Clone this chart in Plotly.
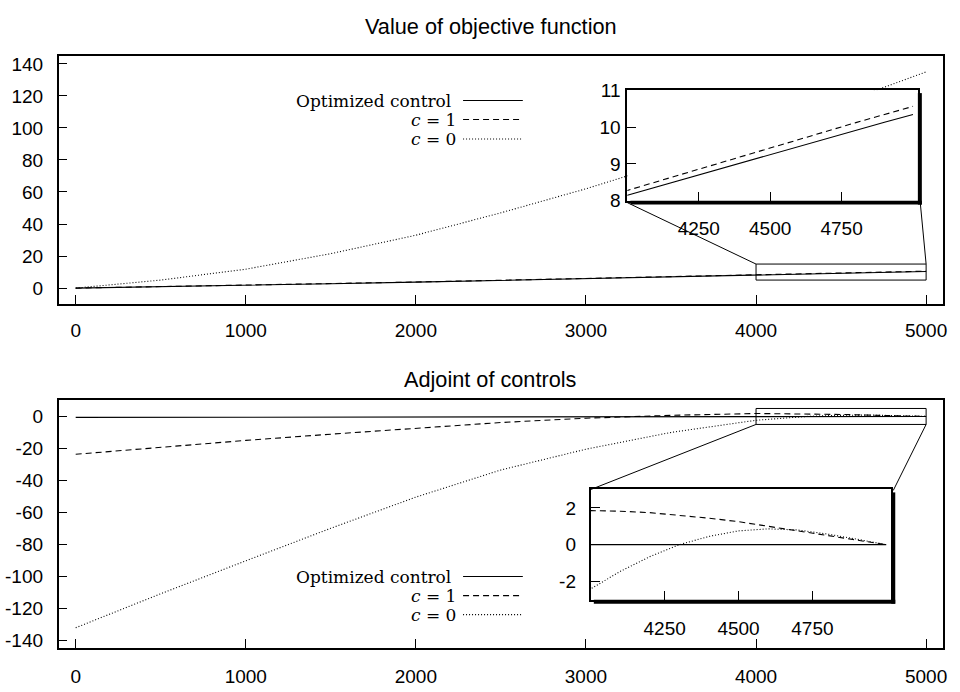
import plotly.graph_objects as go

# ---------------- data ----------------
T = [0, 500, 1000, 1500, 2000, 2500, 3000, 3500, 4000, 4100, 4200, 4300,
     4400, 4500, 4600, 4700, 4800, 4900, 5000]

obj_opt = [0, 0.8, 1.7, 2.7, 3.7, 4.8, 5.9, 7.0, 8.15, 8.37, 8.6, 8.82,
           9.05, 9.27, 9.49, 9.7, 9.92, 10.13, 10.34]
obj_c1 = [0, 0.85, 1.75, 2.75, 3.8, 4.9, 6.0, 7.1, 8.28, 8.51, 8.75, 8.98,
          9.22, 9.45, 9.67, 9.9, 10.12, 10.34, 10.56]
obj_c0 = [0, 5.0, 11.8, 21.5, 33.0, 47.0, 62.0, 78.5, 96.0, 99.8, 103.7, 107.6,
          111.5, 115.5, 119.4, 123.3, 127.2, 131.1, 135.0]

adj_opt = [-0.6, -0.5, -0.4, -0.3, -0.2, -0.15, -0.1, -0.05, 0, 0, 0, 0,
           0, 0, 0, 0, 0, 0, 0]
adj_c1 = [-23.7, -19.2, -15.0, -11.1, -7.4, -3.8, -1.1, 0.7, 1.85, 1.82, 1.74, 1.6,
          1.44, 1.25, 1.0, 0.75, 0.5, 0.25, 0]
adj_c0 = [-132.3, -111.0, -90.4, -70.0, -50.5, -33.5, -20.5, -10.0, -2.4, -1.45, -0.65, 0.0,
          0.45, 0.75, 0.86, 0.8, 0.58, 0.3, 0]

series_names = ["Optimized control", "<i>c</i> = 1", "<i>c</i> = 0"]
titles = ["Value of objective function", "Adjoint of controls"]

x_ticks = [0, 1000, 2000, 3000, 4000, 5000]
obj_yticks = [0, 20, 40, 60, 80, 100, 120, 140]
adj_yticks = [-140, -120, -100, -80, -60, -40, -20, 0]
inset_xticks = [4250, 4500, 4750]
obj_inset_yticks = [8, 9, 10, 11]
adj_inset_yticks = [-2, 0, 2]

main_xrange = [-100, 5100]
obj_yrange = [-10, 145]
adj_yrange = [-145, 10]
inset_xrange = [4000, 5017]
obj_inset_yrange = [8, 11]
adj_inset_yrange = [-3, 3]
obj_zoom_box = [4000, 5000, 5, 15]
adj_zoom_box = [4000, 5000, -5, 5]

# ---------------- layout geometry (pixels) ----------------
W, H = 960, 692
def px(x):
    return x / W
def py(y):
    return 1 - y / H

main_xdom = [px(58.93), px(947.07)]
top_ydom = [py(303.3), py(47.3)]
bot_ydom = [py(658), py(402.7)]
in1_xdom = [px(630), px(921.7)]
in1_ydom = [py(196.7), py(82.7)]
in2_xdom = [px(593.3), px(895)]
in2_ydom = [py(608.3), py(494.5)]

SANS = "Liberation Sans, Arial, sans-serif"
SERIF = "DejaVu Serif, serif"
styles = [dict(color="black", width=1.1),
          dict(color="black", width=1.1, dash="6px,4px"),
          dict(color="black", width=1.1, dash="1px,2px")]

fig = go.Figure()
sets = [
    ("x", "y", [obj_opt, obj_c1, obj_c0]),
    ("x2", "y2", [adj_opt, adj_c1, adj_c0]),
    ("x3", "y3", [obj_opt, obj_c1, obj_c0]),
    ("x4", "y4", [adj_opt, adj_c1, adj_c0]),
]
for xa, ya, ser in sets:
    for name, vals, st in zip(series_names, ser, styles):
        fig.add_trace(go.Scatter(x=T, y=vals, mode="lines", name=name, line=st,
                                 xaxis=xa, yaxis=ya, showlegend=False,
                                 hoverinfo="skip"))

def fmt(v):
    return str(v).replace("\u2212", "-")

def ax(domain, rng, ticks, standoff, anchor, lw=1.6):
    return dict(domain=domain, range=rng, tickvals=ticks,
                ticktext=[fmt(t) for t in ticks], showline=True, mirror=True,
                linecolor="black", linewidth=lw, ticks="inside", ticklen=9,
                tickwidth=1.3, tickcolor="black", showgrid=False, zeroline=False,
                tickfont=dict(family=SANS, size=19, color="black"),
                ticklabelstandoff=standoff, anchor=anchor, fixedrange=True)

fig.update_layout(
    width=W, height=H, margin=dict(l=0, r=0, t=0, b=0),
    paper_bgcolor="white", plot_bgcolor="white", showlegend=False,
    xaxis=ax(main_xdom, main_xrange, x_ticks, 8, "y"),
    yaxis=ax(top_ydom, obj_yrange, obj_yticks, 10, "x"),
    xaxis2=ax(main_xdom, main_xrange, x_ticks, 10, "y2"),
    yaxis2=ax(bot_ydom, adj_yrange, adj_yticks, 10, "x2"),
    xaxis3=ax(in1_xdom, inset_xrange, inset_xticks, 9, "y3", 2),
    yaxis3=ax(in1_ydom, obj_inset_yrange, obj_inset_yticks, 1, "x3", 2),
    xaxis4=ax(in2_xdom, inset_xrange, inset_xticks, 10, "y4", 2),
    yaxis4=ax(in2_ydom, adj_inset_yrange, adj_inset_yticks, 9, "x4", 2),
)

shapes = []
annotations = []

def d2p(xv, yv, xdom, ydom, xr, yr):
    fx = xdom[0] + (xv - xr[0]) / (xr[1] - xr[0]) * (xdom[1] - xdom[0])
    fy = ydom[0] + (yv - yr[0]) / (yr[1] - yr[0]) * (ydom[1] - ydom[0])
    return fx, fy

# zoom boxes
for (xa, ya, box) in [("x", "y", obj_zoom_box), ("x2", "y2", adj_zoom_box)]:
    shapes.append(dict(type="rect", xref=xa, yref=ya, x0=box[0], x1=box[1],
                       y0=box[2], y1=box[3], line=dict(color="black", width=1)))

SH = 4  # shadow size in px
# connectors top
a = d2p(obj_zoom_box[0], obj_zoom_box[3], main_xdom, top_ydom, main_xrange, obj_yrange)
b = d2p(obj_zoom_box[1], obj_zoom_box[3], main_xdom, top_ydom, main_xrange, obj_yrange)
shapes.append(dict(type="line", xref="paper", yref="paper", x0=a[0], y0=a[1],
                   x1=in1_xdom[0], y1=in1_ydom[0] - 2 / H, line=dict(color="black", width=1)))
shapes.append(dict(type="line", xref="paper", yref="paper", x0=b[0], y0=b[1],
                   x1=in1_xdom[1] + 2.5 / W, y1=in1_ydom[0] - 3 / H, line=dict(color="black", width=1)))
# connectors bottom
a = d2p(adj_zoom_box[0], adj_zoom_box[2], main_xdom, bot_ydom, main_xrange, adj_yrange)
b = d2p(adj_zoom_box[1], adj_zoom_box[2], main_xdom, bot_ydom, main_xrange, adj_yrange)
shapes.append(dict(type="line", xref="paper", yref="paper", x0=a[0], y0=a[1],
                   x1=in2_xdom[0], y1=in2_ydom[1], line=dict(color="black", width=1)))
shapes.append(dict(type="line", xref="paper", yref="paper", x0=b[0], y0=b[1],
                   x1=in2_xdom[1] + 2 / W, y1=in2_ydom[1] - 1 / H, line=dict(color="black", width=1)))

# shadows for insets
for xd, yd in [(in1_xdom, in1_ydom), (in2_xdom, in2_ydom)]:
    shapes.append(dict(type="rect", xref="paper", yref="paper", layer="above",
                       x0=xd[1], x1=xd[1] + SH / W, y0=yd[0] - SH / H, y1=yd[1] - 3 / H,
                       fillcolor="black", line=dict(width=0)))
    shapes.append(dict(type="rect", xref="paper", yref="paper", layer="above",
                       x0=xd[0] + 3 / W, x1=xd[1] + SH / W, y0=yd[0] - SH / H, y1=yd[0],
                       fillcolor="black", line=dict(width=0)))

# legends (manual, gnuplot-style: right-aligned text, sample on the right)
text_right = [455, 460, 460]
for rows in ([93.3, 113, 133], [584.3, 604, 623.5]):
    for name, st, yrow, xr in zip(series_names, styles, rows, text_right):
        annotations.append(dict(xref="paper", yref="paper", x=px(xr), y=py(yrow + 0.5),
                                xanchor="right", yanchor="middle", text=name,
                                showarrow=False,
                                font=dict(family=SERIF, size=17, color="black")))
        shapes.append(dict(type="line", xref="paper", yref="paper",
                           x0=px(465), x1=px(525), y0=py(yrow), y1=py(yrow), line=st))

# titles
for t, yy in zip(titles, [17, 381]):
    annotations.append(dict(xref="paper", yref="paper", x=px(493), y=py(yy),
                            xanchor="center", yanchor="middle", text=t, showarrow=False,
                            font=dict(family=SANS, size=21.7, color="black")))

fig.update_layout(shapes=shapes, annotations=annotations)
fig.write_html("out.html")
